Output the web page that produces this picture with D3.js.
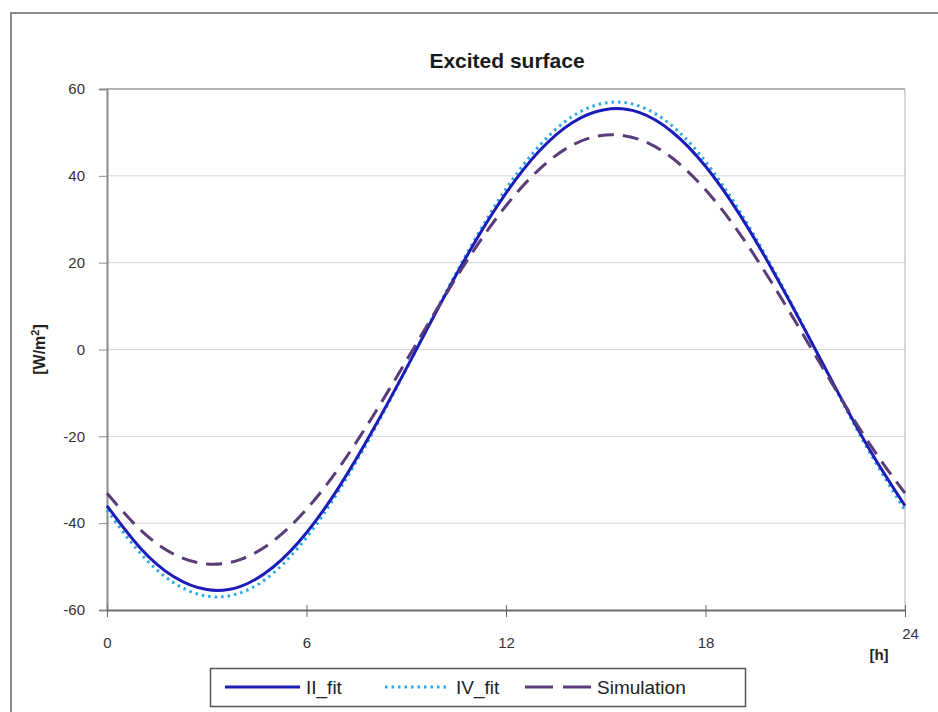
<!DOCTYPE html>
<html>
<head>
<meta charset="utf-8">
<script src="https://cdn.jsdelivr.net/npm/d3@7"></script>
<style>
  body { margin: 0; background: #fff; }
  svg { display: block; font-family: "Liberation Sans", Arial, sans-serif; }
</style>
</head>
<body>
<div id="chart"></div>
<script>
// hours of the day
var hours = [0,1,2,3,4,5,6,7,8,9,10,11,12,13,14,15,16,17,18,19,20,21,22,23,24];

// values, W/m2
var iiFit = [-36.0,-45.7,-52.3,-55.3,-54.6,-50.1,-42.2,-31.4,-18.5,-4.4,10.1,23.9,36.0,
             45.7,52.3,55.3,54.6,50.1,42.2,31.4,18.5,4.4,-10.1,-23.9,-36.0];
var ivFit = [-37.0,-46.9,-53.7,-56.8,-56.1,-51.5,-43.3,-32.2,-19.0,-4.5,10.4,24.5,37.0,
             46.9,53.7,56.8,56.1,51.5,43.3,32.2,19.0,4.5,-10.4,-24.5,-37.0];
var simulation = [-33.1,-41.5,-47.1,-49.4,-48.4,-44.1,-36.8,-27.0,-15.3,-2.6,10.3,22.5,33.1,
                  41.5,47.1,49.4,48.4,44.1,36.8,27.0,15.3,2.6,-10.3,-22.5,-33.1];

var xTicks = [0, 6, 12, 18, 24];
var yTicks = [-60, -40, -20, 0, 20, 40, 60];
var seriesNames = ["II_fit", "IV_fit", "Simulation"];

var W = 938, H = 712;
var margin = {top: 89, right: 33, bottom: 102, left: 107};
var width = W - margin.left - margin.right;
var height = H - margin.top - margin.bottom;

var svg = d3.select('#chart').append('svg')
    .attr('width', W)
    .attr('height', H);

// outer chart frame
svg.append('rect')
    .attr('x', 11).attr('y', 13)
    .attr('width', 940).attr('height', 720)
    .attr('fill', '#fff')
    .attr('stroke', '#8a8a8a')
    .attr('stroke-width', 2);

svg.append('text')
    .attr('x', 507).attr('y', 68)
    .attr('text-anchor', 'middle')
    .attr('font-size', 21)
    .attr('font-weight', 'bold')
    .attr('fill', '#1a1a1a')
    .text('Excited surface');

var g = svg.append('g')
    .attr('transform', `translate(${margin.left},${margin.top})`);

var x = d3.scaleLinear().domain([0, 24]).range([0, width]);
var y = d3.scaleLinear().domain([-60, 60]).range([height, 0]);

// plain hyphen for negatives, like the original
var fmt = d => d < 0 ? '-' + Math.abs(d) : String(d);

// gridlines
g.selectAll('.grid')
    .data(yTicks.filter(d => d > -60))
    .enter().append('line')
    .attr('class', 'grid')
    .attr('x1', 0).attr('x2', width)
    .attr('y1', d => y(d)).attr('y2', d => y(d))
    .attr('stroke', d => d === 60 ? '#9a9a9a' : '#d4d4d4')
    .attr('stroke-width', d => d === 60 ? 1.5 : 1);

// right border of plot area
g.append('line')
    .attr('x1', width).attr('x2', width)
    .attr('y1', 0).attr('y2', height)
    .attr('stroke', '#b0b0b0');

var yAxis = g.append('g')
    .call(d3.axisLeft(y).tickValues(yTicks).tickFormat(fmt).tickSize(8).tickPadding(14));
yAxis.select('.domain').attr('stroke', '#8a8a8a').attr('stroke-width', 2);
yAxis.selectAll('.tick line').attr('stroke', '#8a8a8a');
yAxis.selectAll('.tick text').attr('font-size', 15).attr('fill', '#333')
    .attr('font-family', '"Liberation Sans", Arial, sans-serif');

var xAxis = g.append('g')
    .attr('transform', `translate(0,${height})`)
    .call(d3.axisBottom(x).tickValues(xTicks).tickFormat(fmt).tickSize(7).tickPadding(20).tickSizeOuter(0));
xAxis.select('.domain').attr('stroke', '#6a6a6a').attr('stroke-width', 2);
xAxis.selectAll('.tick line').attr('stroke', '#6a6a6a').attr('y1', -5);
xAxis.selectAll('.tick text').attr('font-size', 15).attr('fill', '#333')
    .attr('font-family', '"Liberation Sans", Arial, sans-serif');
// the 24 label is nudged a bit right and up in the original
xAxis.selectAll('.tick').filter(d => d === 24).select('text')
    .attr('dx', 5).attr('y', 18);

g.append('text')
    .attr('x', x(24) - 26).attr('y', height + 50)
    .attr('text-anchor', 'middle')
    .attr('font-size', 15).attr('font-weight', 'bold').attr('fill', '#222')
    .text('[h]');

// y label
var ylab = svg.append('text')
    .attr('transform', `translate(45,${margin.top + y(0)}) rotate(-90)`)
    .attr('text-anchor', 'middle')
    .attr('font-size', 16).attr('font-weight', 'bold').attr('fill', '#222');
ylab.append('tspan').text('[W/m');
ylab.append('tspan').attr('baseline-shift', 'super').attr('font-size', 11).text('2');
ylab.append('tspan').text(']');

var line = d3.line()
    .x((d, i) => x(hours[i]))
    .y(d => y(d))
    .curve(d3.curveNatural);

var styles = {
    "II_fit": {color: '#1c1cb8', width: 3, dash: null, legDash: null, len: 75},
    "IV_fit": {color: '#2aa8e8', width: 3, dash: '2.5,4', legDash: '2.5,4', len: 65},
    "Simulation": {color: '#5a3c78', width: 3, dash: '16,9', legDash: '28,10', len: 66}
};

var seriesData = {"II_fit": iiFit, "IV_fit": ivFit, "Simulation": simulation};

["IV_fit", "II_fit", "Simulation"].forEach(function(name) {
    var s = styles[name];
    g.append('path')
        .datum(seriesData[name])
        .attr('d', line)
        .attr('fill', 'none')
        .attr('stroke', s.color)
        .attr('stroke-width', s.width)
        .attr('stroke-dasharray', s.dash);
});

// legend
var legend = svg.append('g').attr('transform', 'translate(210,668)');
legend.append('rect')
    .attr('x', 0.5).attr('y', 0.5)
    .attr('width', 535).attr('height', 38)
    .attr('fill', '#fff')
    .attr('stroke', '#555').attr('stroke-width', 1.5);

var legX = [15, 175, 315];
seriesNames.forEach(function(name, i) {
    var s = styles[name];
    var item = legend.append('g').attr('transform', `translate(${legX[i]},19)`);
    item.append('line')
        .attr('x1', 0).attr('x2', s.len)
        .attr('y1', 0).attr('y2', 0)
        .attr('stroke', s.color)
        .attr('stroke-width', s.width)
        .attr('stroke-dasharray', s.legDash);
    item.append('text')
        .attr('x', s.len + 6).attr('y', 7)
        .attr('font-size', 19).attr('fill', '#222')
        .text(name);
});
</script>
</body>
</html>
